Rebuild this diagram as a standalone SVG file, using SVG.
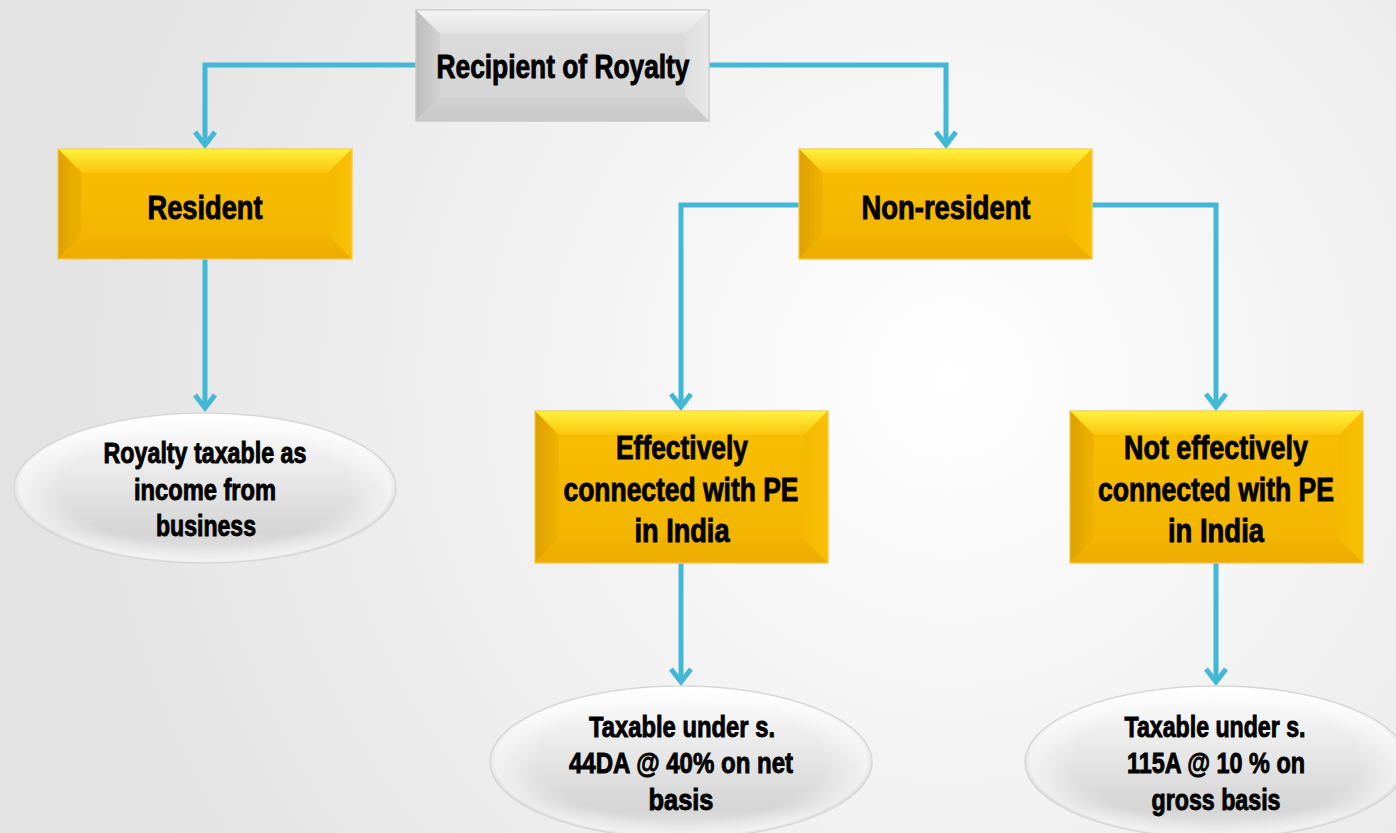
<svg xmlns="http://www.w3.org/2000/svg" width="1396" height="833" viewBox="0 0 1396 833">
<defs>
<style>
.t{font-family:"Liberation Sans Narrow","Liberation Sans",Arial,sans-serif;font-weight:bold;fill:#000;stroke:#000;stroke-width:0.9px;text-anchor:middle}
.big{font-size:33px}
.sm{font-size:29px}
.conn{fill:none;stroke:#42B8D6;stroke-width:5;stroke-linejoin:miter}
.yface{fill:url(#yFace);stroke:#F3CF5A;stroke-width:1}
.ytop{fill:url(#yTop)}
.yleft{fill:url(#yLeft)}
.yright{fill:url(#yRight)}
.ybot{fill:url(#yBot)}
.gface{fill:url(#gFace);stroke:#C9C9C9;stroke-width:1}
.gtop{fill:url(#gTop)}
.gleft{fill:url(#gLeft)}
.gright{fill:url(#gRight)}
.gbot{fill:url(#gBot)}
.ell{fill:url(#eFill);stroke:#D6D6D6;stroke-width:1.5}
.ehi{fill:url(#eHi)}
</style>
<radialGradient id="bg" cx="950" cy="380" r="900" gradientUnits="userSpaceOnUse">
<stop offset="0" stop-color="#FFFFFF"/>
<stop offset="1" stop-color="#E3E3E3"/>
</radialGradient>
<linearGradient id="yFace" x1="0" y1="0" x2="0" y2="1"><stop offset="0" stop-color="#F9C000"/><stop offset="1" stop-color="#F2B300"/></linearGradient>
<linearGradient id="yTop" x1="0" y1="0" x2="0" y2="1"><stop offset="0" stop-color="#FFF23C"/><stop offset="1" stop-color="#FBC50C"/></linearGradient>
<linearGradient id="yLeft" x1="0" y1="0" x2="1" y2="0"><stop offset="0" stop-color="#DDA000"/><stop offset="1" stop-color="#F0B300"/></linearGradient>
<linearGradient id="yRight" x1="0" y1="0" x2="1" y2="0"><stop offset="0" stop-color="#F5BA00"/><stop offset="1" stop-color="#F8C004"/></linearGradient>
<linearGradient id="yBot" x1="0" y1="0" x2="0" y2="1"><stop offset="0" stop-color="#F2B300"/><stop offset="1" stop-color="#ECAC00"/></linearGradient>
<linearGradient id="gFace" x1="0" y1="0" x2="0" y2="1"><stop offset="0" stop-color="#DDDDDD"/><stop offset="1" stop-color="#D3D3D3"/></linearGradient>
<linearGradient id="gTop" x1="0" y1="0" x2="0" y2="1"><stop offset="0" stop-color="#F4F4F4"/><stop offset="1" stop-color="#E2E2E2"/></linearGradient>
<linearGradient id="gLeft" x1="0" y1="0" x2="1" y2="0"><stop offset="0" stop-color="#BDBDBD"/><stop offset="1" stop-color="#D2D2D2"/></linearGradient>
<linearGradient id="gRight" x1="0" y1="0" x2="1" y2="0"><stop offset="0" stop-color="#DEDEDE"/><stop offset="1" stop-color="#E8E8E8"/></linearGradient>
<linearGradient id="gBot" x1="0" y1="0" x2="0" y2="1"><stop offset="0" stop-color="#D2D2D2"/><stop offset="1" stop-color="#C8C8C8"/></linearGradient>
<linearGradient id="eFill" x1="0" y1="0" x2="0" y2="1"><stop offset="0" stop-color="#FFFFFF"/><stop offset="0.3" stop-color="#EEEEEE"/><stop offset="0.8" stop-color="#D5D5D5"/><stop offset="1" stop-color="#E6E6E6"/></linearGradient>
<radialGradient id="eHi" cx="0.5" cy="0.5" r="0.5"><stop offset="0.75" stop-color="#FFFFFF" stop-opacity="0"/><stop offset="0.97" stop-color="#FFFFFF" stop-opacity="0.55"/><stop offset="1" stop-color="#FFFFFF" stop-opacity="0"/></radialGradient>
<marker id="arr" markerUnits="userSpaceOnUse" markerWidth="34" markerHeight="34" viewBox="-17 -17 34 34" refX="0" refY="0" orient="auto" overflow="visible">
<path d="M-13,-10 L0,0 L-13,10" fill="none" stroke="#42B8D6" stroke-width="5" stroke-linejoin="miter"/>
</marker>
</defs>
<rect x="0" y="0" width="1396" height="833" fill="url(#bg)"/>

<g id="connectors">
<path class="conn" d="M416,65 H205 V145" marker-end="url(#arr)"/>
<path class="conn" d="M709,65 H946 V145" marker-end="url(#arr)"/>
<path class="conn" d="M205,259 V408" marker-end="url(#arr)"/>
<path class="conn" d="M799,205 H681 V407" marker-end="url(#arr)"/>
<path class="conn" d="M1092,205 H1216 V407" marker-end="url(#arr)"/>
<path class="conn" d="M681,563 V682" marker-end="url(#arr)"/>
<path class="conn" d="M1216,563 V682" marker-end="url(#arr)"/>
</g>

<g id="recipient">
<rect class="gface" x="416" y="10" width="293" height="111"/>
<polygon class="gtop" points="416,10 709,10 685,34 440,34"/>
<polygon class="gleft" points="416,10 440,34 440,97 416,121"/>
<polygon class="gright" points="709,10 709,121 685,97 685,34"/>
<polygon class="gbot" points="416,121 440,97 685,97 709,121"/>
<rect x="416" y="10" width="293" height="111" fill="none" stroke="#C9C9C9" stroke-width="1"/>
<text class="t big" x="563" y="78" textLength="253" lengthAdjust="spacingAndGlyphs">Recipient of Royalty</text>
</g>

<g id="resident">
<rect class="yface" x="58" y="149" width="294" height="110"/>
<polygon class="ytop" points="58,149 352,149 328,173 82,173"/>
<polygon class="yleft" points="58,149 82,173 82,235 58,259"/>
<polygon class="yright" points="352,149 352,259 328,235 328,173"/>
<polygon class="ybot" points="58,259 82,235 328,235 352,259"/>
<rect x="58" y="149" width="294" height="110" fill="none" stroke="#F3CF5A" stroke-width="1"/>
<text class="t big" x="205" y="219" textLength="115" lengthAdjust="spacingAndGlyphs">Resident</text>
</g>

<g id="nonresident">
<rect class="yface" x="799" y="149" width="293" height="110"/>
<polygon class="ytop" points="799,149 1092,149 1068,173 823,173"/>
<polygon class="yleft" points="799,149 823,173 823,235 799,259"/>
<polygon class="yright" points="1092,149 1092,259 1068,235 1068,173"/>
<polygon class="ybot" points="799,259 823,235 1068,235 1092,259"/>
<rect x="799" y="149" width="293" height="110" fill="none" stroke="#F3CF5A" stroke-width="1"/>
<text class="t big" x="946" y="219" textLength="169" lengthAdjust="spacingAndGlyphs">Non-resident</text>
</g>

<g id="effectively">
<rect class="yface" x="535" y="411" width="293" height="152"/>
<polygon class="ytop" points="535,411 828,411 804,435 559,435"/>
<polygon class="yleft" points="535,411 559,435 559,539 535,563"/>
<polygon class="yright" points="828,411 828,563 804,539 804,435"/>
<polygon class="ybot" points="535,563 559,539 804,539 828,563"/>
<rect x="535" y="411" width="293" height="152" fill="none" stroke="#F3CF5A" stroke-width="1"/>
<text class="t big" x="682" y="459" textLength="132" lengthAdjust="spacingAndGlyphs">Effectively</text>
<text class="t big" x="681" y="501" textLength="235" lengthAdjust="spacingAndGlyphs">connected with PE</text>
<text class="t big" x="682" y="542" textLength="95" lengthAdjust="spacingAndGlyphs">in India</text>
</g>

<g id="noteffectively">
<rect class="yface" x="1070" y="411" width="293" height="152"/>
<polygon class="ytop" points="1070,411 1363,411 1339,435 1094,435"/>
<polygon class="yleft" points="1070,411 1094,435 1094,539 1070,563"/>
<polygon class="yright" points="1363,411 1363,563 1339,539 1339,435"/>
<polygon class="ybot" points="1070,563 1094,539 1339,539 1363,563"/>
<rect x="1070" y="411" width="293" height="152" fill="none" stroke="#F3CF5A" stroke-width="1"/>
<text class="t big" x="1216" y="459" textLength="184" lengthAdjust="spacingAndGlyphs">Not effectively</text>
<text class="t big" x="1216" y="501" textLength="236" lengthAdjust="spacingAndGlyphs">connected with PE</text>
<text class="t big" x="1216" y="542" textLength="96" lengthAdjust="spacingAndGlyphs">in India</text>
</g>

<g id="royaltyBusiness">
<ellipse class="ell" cx="205" cy="488" rx="191" ry="75"/>
<ellipse class="ehi" cx="205" cy="488" rx="191" ry="75"/>
<text class="t sm" x="205" y="463" textLength="203" lengthAdjust="spacingAndGlyphs">Royalty taxable as</text>
<text class="t sm" x="205" y="500" textLength="142" lengthAdjust="spacingAndGlyphs">income from</text>
<text class="t sm" x="206" y="536" textLength="100" lengthAdjust="spacingAndGlyphs">business</text>
</g>

<g id="taxable44DA">
<ellipse class="ell" cx="681" cy="762" rx="191" ry="76"/>
<ellipse class="ehi" cx="681" cy="762" rx="191" ry="76"/>
<text class="t sm" x="682" y="737" textLength="186" lengthAdjust="spacingAndGlyphs">Taxable under s.</text>
<text class="t sm" x="681" y="773" textLength="224" lengthAdjust="spacingAndGlyphs">44DA @ 40% on net</text>
<text class="t sm" x="681" y="810" textLength="65" lengthAdjust="spacingAndGlyphs">basis</text>
</g>

<g id="taxable115A">
<ellipse class="ell" cx="1216" cy="762" rx="191" ry="76"/>
<ellipse class="ehi" cx="1216" cy="762" rx="191" ry="76"/>
<text class="t sm" x="1215" y="737" textLength="181" lengthAdjust="spacingAndGlyphs">Taxable under s.</text>
<text class="t sm" x="1216" y="773" textLength="178" lengthAdjust="spacingAndGlyphs">115A @ 10 % on</text>
<text class="t sm" x="1216" y="810" textLength="129" lengthAdjust="spacingAndGlyphs">gross basis</text>
</g>
</svg>
